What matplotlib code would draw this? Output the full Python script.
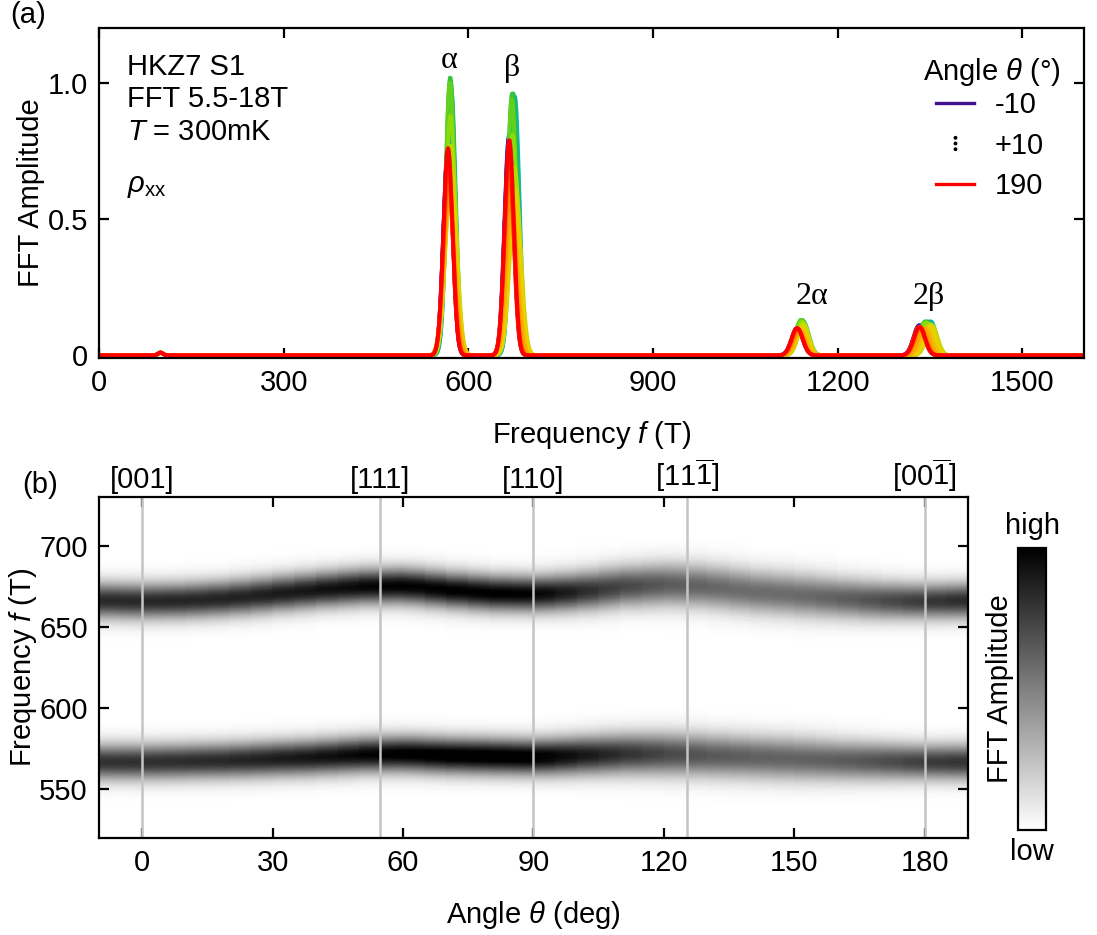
import numpy as np
import matplotlib
matplotlib.use('Agg')
import matplotlib.pyplot as plt
from matplotlib.colors import LinearSegmentedColormap
from matplotlib.lines import Line2D

plt.rcParams['font.family'] = ['Liberation Sans', 'DejaVu Sans']
plt.rcParams['mathtext.fontset'] = 'custom'
plt.rcParams['mathtext.rm'] = 'Liberation Sans'
plt.rcParams['mathtext.it'] = 'Liberation Sans:italic'
plt.rcParams['mathtext.sf'] = 'Liberation Sans'
plt.rcParams['font.size'] = 21

# ------------------------------- Data ------------------------------- #
# rotation angles (deg) and peak parameters
angles = [-10, 0, 10, 20, 30, 40, 50, 60, 70, 80, 90,
          100, 110, 120, 130, 140, 150, 160, 170, 180, 190]
f_alpha = [567, 567, 567.5, 568, 569, 570, 571.5, 572, 571, 570.5, 570,
           571, 572, 572, 571, 570, 569, 568, 567.5, 567, 567]
f_beta = [666.5, 666, 666.5, 668, 670.5, 673, 675, 675.5, 673, 671, 670.5,
          672, 675, 676.5, 675, 672, 670, 668, 666.5, 666, 666.5]
amp_alpha = [0.76, 0.77, 0.78, 0.80, 0.84, 0.88, 0.93, 0.98, 1.01, 1.02, 1.00,
             0.88, 0.77, 0.68, 0.62, 0.59, 0.58, 0.60, 0.65, 0.72, 0.76]
amp_beta = [0.79, 0.80, 0.81, 0.82, 0.85, 0.88, 0.92, 0.95, 0.96, 0.96, 0.94,
            0.81, 0.69, 0.61, 0.57, 0.55, 0.55, 0.59, 0.66, 0.74, 0.79]
amp_2alpha = [0.10, 0.10, 0.10, 0.105, 0.11, 0.115, 0.12, 0.125, 0.13, 0.13, 0.13,
              0.125, 0.12, 0.11, 0.10, 0.095, 0.09, 0.09, 0.095, 0.10, 0.10]
amp_2beta = [0.11, 0.11, 0.11, 0.11, 0.115, 0.12, 0.12, 0.125, 0.125, 0.125, 0.12,
             0.12, 0.115, 0.11, 0.105, 0.10, 0.10, 0.10, 0.10, 0.105, 0.105]
width = [7.5, 7.5, 7.5, 7.5, 7.5, 7.5, 7.5, 7.5, 7.5, 7.5, 7.5,
         8, 8.5, 9, 9, 9, 9, 8.5, 8, 7.5, 7.5]
width_harm = 9.0

# crystal directions (top axis of panel b)
dir_angles = [0, 54.7, 90, 125.3, 180]
dir_labels = ['[001]', '[111]', '[110]',
              r'$\mathsf{[11\overline{1}]}$', r'$\mathsf{[00\overline{1}]}$']

rainbow = LinearSegmentedColormap.from_list(
    'angle', ['#40108f', '#1030ff', '#00b0ff', '#20c040', '#a0e000',
              '#f0d000', '#ff9000', '#ff0000'])


def spectrum(freq, i):
    s = amp_alpha[i] * np.exp(-(freq - f_alpha[i])**2 / (2 * width[i]**2))
    s += amp_beta[i] * np.exp(-(freq - f_beta[i])**2 / (2 * width[i]**2))
    s += amp_2alpha[i] * np.exp(-(freq - 2 * f_alpha[i])**2 / (2 * width_harm**2))
    s += amp_2beta[i] * np.exp(-(freq - 2 * f_beta[i])**2 / (2 * width_harm**2))
    s += 0.01 * np.exp(-(freq - 100)**2 / (2 * 4**2))
    return s


fig = plt.figure(figsize=(10.97, 9.35), dpi=100)
ax1 = fig.add_axes([0.0902, 0.617, 0.898, 0.353])
ax2 = fig.add_axes([0.0902, 0.1037, 0.7922, 0.3647])
cax = fig.add_axes([0.928, 0.1123, 0.0255, 0.3016])

for ax in (ax1, ax2):
    for sp in ax.spines.values():
        sp.set_linewidth(1.6)
    ax.tick_params(direction='in', top=True, right=True, length=7, width=1.6,
                   pad=8)

# ------------------------- (a) FFT spectra -------------------------- #
freq = np.arange(0, 1600.5, 1.0)
for i, ang in enumerate(angles):
    c = rainbow((ang - angles[0]) / (angles[-1] - angles[0]))
    ax1.plot(freq, spectrum(freq, i), color=c, lw=2.8)

ax1.set_xlim(0, 1600)
ax1.set_ylim(-0.01, 1.2)
ax1.set_xticks([0, 300, 600, 900, 1200, 1500])
ax1.set_yticks([0, 0.5, 1.0], ['0', '0.5', '1.0'])
ax1.set_xlabel('Frequency $f$ (T)', labelpad=16)
ax1.set_ylabel('FFT Amplitude', labelpad=2)

ax1.text(0.028, 0.925, 'HKZ7 S1\nFFT 5.5-18T\n$T$ = 300mK', transform=ax1.transAxes,
         va='top', ha='left', linespacing=1.2)
ax1.text(0.028, 0.52, r'$\rho_{\rm xx}$', transform=ax1.transAxes,
         va='center', ha='left')

greek = dict(family=['Liberation Serif', 'DejaVu Serif'], ha='center',
             va='center', fontsize=23)
ax1.text(569, 1.08, 'α', **greek)
ax1.text(671, 1.05, 'β', **greek)
ax1.text(1158, 0.215, '2α', **greek)
ax1.text(1347, 0.215, '2β', **greek)

# legend: title as separate text, three entries below
ax1.text(0.906, 0.868, r'Angle $\theta$ (°)', transform=ax1.transAxes,
         ha='center', va='center')
handles = [Line2D([], [], color=rainbow(0.0), lw=2.4),
           Line2D([], [], ls='none', marker=r'$\vdots$', color='k', markersize=10),
           Line2D([], [], color=rainbow(1.0), lw=2.4)]
leg = ax1.legend(handles, ['-10', '+10', '190'],
                 loc='upper right', bbox_to_anchor=(0.98, 0.87), frameon=False,
                 handlelength=1.3, handletextpad=0.7, labelspacing=0.42,
                 borderpad=0.2, fontsize=21)

# ------------------------- (b) angle map -------------------------- #
fgrid = np.arange(520, 730.5, 0.5)
Z = np.array([spectrum(fgrid, i) for i in range(len(angles))]).T
mesh = ax2.pcolormesh(angles, fgrid, Z, cmap='gray_r', shading='gouraud',
                      vmin=0, vmax=0.95, rasterized=True)
for d in dir_angles:
    ax2.axvline(d, color='#c4c4c4', lw=1.8, zorder=2)

ax2.set_xlim(-10, 190)
ax2.set_ylim(520, 730)
ax2.set_xticks([0, 30, 60, 90, 120, 150, 180])
ax2.set_yticks([550, 600, 650, 700])
ax2.set_xlabel(r'Angle $\theta$ (deg)', labelpad=16)
ax2.set_ylabel('Frequency $f$ (T)', labelpad=0)

sec = ax2.secondary_xaxis('top')
sec.set_xticks(dir_angles, labels=dir_labels)
sec.tick_params(length=0, pad=2)
sec.spines['top'].set_visible(False)

cb = fig.colorbar(mesh, cax=cax)
cb.set_ticks([])
cb.outline.set_linewidth(1.6)
cax.yaxis.set_label_position('left')
cax.set_ylabel('FFT Amplitude', labelpad=3)
cax.text(0.5, 1.03, 'high', transform=cax.transAxes, ha='center', va='bottom')
cax.text(0.5, -0.03, 'low', transform=cax.transAxes, ha='center', va='top')

fig.text(0.009, 0.984, '(a)', ha='left', va='center')
fig.text(0.02, 0.481, '(b)', ha='left', va='center')

fig.savefig('out.png', dpi=100)
